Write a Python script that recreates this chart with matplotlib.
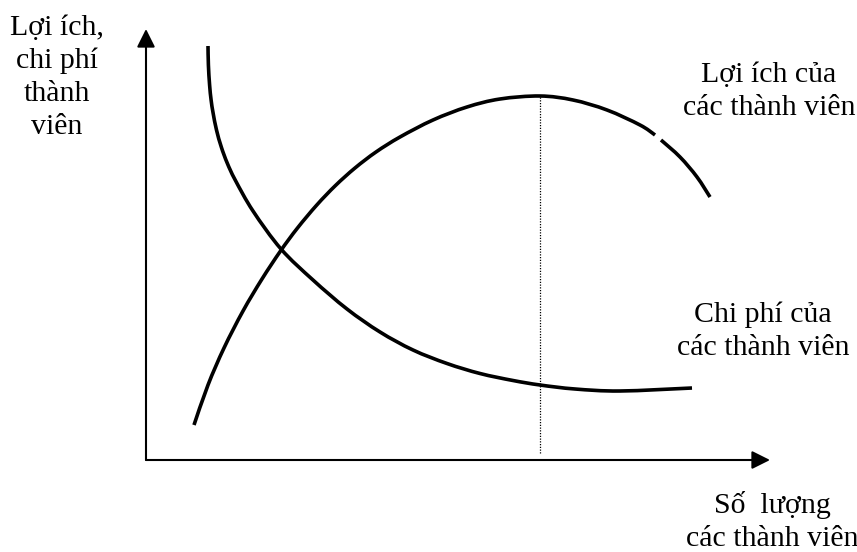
import numpy as np
import matplotlib
matplotlib.use("Agg")
import matplotlib.pyplot as plt
from matplotlib.path import Path
from matplotlib.patches import PathPatch

# Curves (units: pixels from the axes origin).
# NaN marks the small break the original has in the benefit curve.
benefit_x = [48, 62, 78, 97, 116, 134.5, 151.5, 170.8, 189.5, 209, 230, 254, 287,
             321, 354, 394, 427, 461, 494, 509, np.nan, 515, 534, 551, 564]
benefit_y = [35, 75, 112, 149, 181, 209, 232, 255, 274.5, 292, 308, 323, 340,
             353, 361, 364, 360, 350, 335, 325, np.nan, 320, 303, 283, 263]

cost_x = [62, 62.4, 63.6, 65.1, 67.1, 70.5, 75.3, 81.2, 89.2, 107, 135, 167,
          201, 234, 267, 301, 334, 367, 394, 429, 474, 546]
cost_y = [414, 395, 375, 360, 347, 330, 313, 297, 280, 249, 211, 180,
          151, 128, 110, 96.5, 86.5, 79.5, 75, 71, 69, 72]

x_axis_end = 624
y_axis_end = 431

y_label = ["Lợi ích,", "chi phí", "thành", "viên"]
benefit_label = ["Lợi ích của", "các thành viên"]
cost_label = ["Chi phí của", "các thành viên"]
x_label = ["Số  lượng", "các thành viên"]

plt.rcParams["font.family"] = ["Liberation Serif", "DejaVu Serif"]


def smooth_path(xs, ys):
    """Catmull-Rom curve through the points, drawn as cubic Bezier pieces."""
    xs = np.asarray(xs, dtype=float)
    ys = np.asarray(ys, dtype=float)
    ok = ~np.isnan(xs)
    breaks = set(np.cumsum(ok)[~ok])  # index (in clean list) that starts a new piece
    pts = np.column_stack([xs[ok], ys[ok]])
    n = len(pts)
    verts = [pts[0]]
    codes = [Path.MOVETO]
    for i in range(n - 1):
        p0 = pts[max(i - 1, 0)]
        p1, p2 = pts[i], pts[i + 1]
        p3 = pts[min(i + 2, n - 1)]
        if (i + 1) in breaks:
            verts.append(p2)
            codes.append(Path.MOVETO)
            continue
        verts += [p1 + (p2 - p0) / 6, p2 - (p3 - p1) / 6, p2]
        codes += [Path.CURVE4] * 3
    return Path(verts, codes)


fig = plt.figure(figsize=(8.57, 5.52), dpi=100)
ax = fig.add_axes([0, 0, 1, 1])
ax.set_xlim(-146, 711)
ax.set_ylim(-92, 460)
ax.axis("off")

# axes with arrow heads
arrow = dict(arrowstyle="-|>,head_length=1.1,head_width=0.55", lw=1.5,
             color="black", mutation_scale=10, shrinkA=0, shrinkB=0)
ax.annotate("", xy=(0, y_axis_end), xytext=(0, 0), arrowprops=arrow)
ax.annotate("", xy=(x_axis_end, 0), xytext=(0, 0), arrowprops=arrow)

for xs, ys in [(benefit_x, benefit_y), (cost_x, cost_y)]:
    ax.add_patch(PathPatch(smooth_path(xs, ys), fill=False, edgecolor="black",
                           lw=2.6, capstyle="butt"))

# dotted line down from the top of the benefit curve
by = np.array(benefit_y, dtype=float)
peak = int(np.nanargmax(by))
ax.vlines(benefit_x[peak], 7, by[peak], colors="black", lw=0.9,
          linestyles=(0, (1, 1.2)))


def label(lines, xc, y0, step=33):
    for i, s in enumerate(lines):
        ax.text(xc, y0 - i * step, s, ha="center", va="baseline", fontsize=21.5)


label(y_label, -89, 425)
label(benefit_label, 623, 378)
label(cost_label, 617, 138)
label(x_label, 626, -53)

fig.savefig("out.png", dpi=100)
